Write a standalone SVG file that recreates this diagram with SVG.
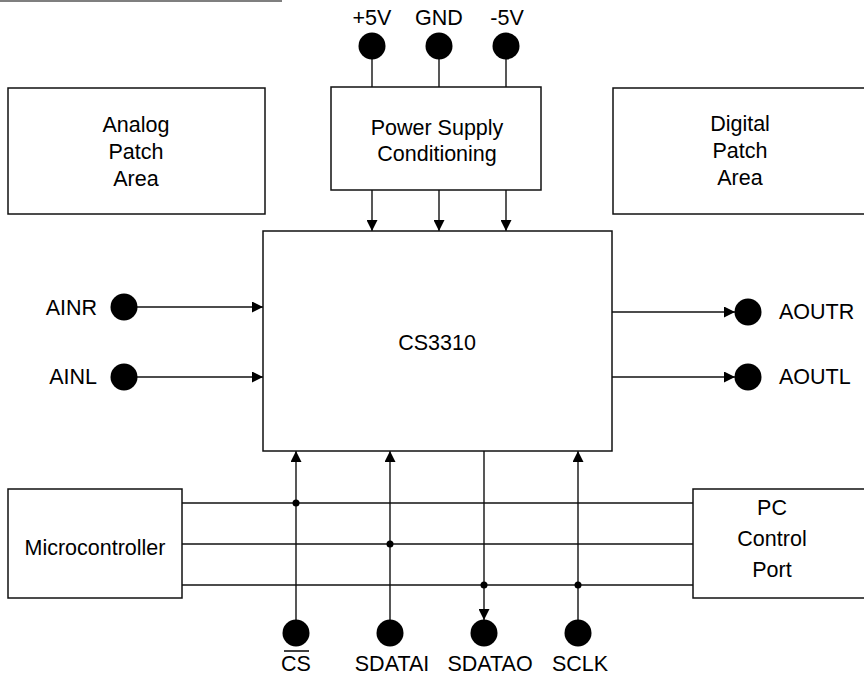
<svg xmlns="http://www.w3.org/2000/svg" width="864" height="678" viewBox="0 0 864 678">
<style>
.box{fill:#fff;stroke:#111;stroke-width:1.5}
.ln{stroke:#111;stroke-width:1.4;fill:none}
.pin{fill:#000}
.dot{fill:#000}
text{font-family:"Liberation Sans",Arial,sans-serif;font-size:21.5px;fill:#000}
.c{text-anchor:middle}
.e{text-anchor:end}
</style>
<defs>
<marker id="ah" viewBox="0 0 10 10" refX="10" refY="5" markerWidth="12" markerHeight="11" markerUnits="userSpaceOnUse" orient="auto">
<path d="M0,0 L10,5 L0,10 Z" fill="#000"/>
</marker>
</defs>
<rect width="864" height="678" fill="#fff"/>
<line x1="0" y1="1" x2="282" y2="1" stroke="#555" stroke-width="1.5"/>

<g id="connectors">
<line class="ln" x1="372" y1="45" x2="372" y2="87"/>
<line class="ln" x1="439" y1="45" x2="439" y2="87"/>
<line class="ln" x1="506" y1="45" x2="506" y2="87"/>
<line class="ln" x1="372" y1="190" x2="372" y2="231" marker-end="url(#ah)"/>
<line class="ln" x1="439" y1="190" x2="439" y2="231" marker-end="url(#ah)"/>
<line class="ln" x1="506" y1="190" x2="506" y2="231" marker-end="url(#ah)"/>
<line class="ln" x1="124" y1="307" x2="263" y2="307" marker-end="url(#ah)"/>
<line class="ln" x1="124" y1="377" x2="263" y2="377" marker-end="url(#ah)"/>
<line class="ln" x1="612" y1="312" x2="735" y2="312" marker-end="url(#ah)"/>
<line class="ln" x1="612" y1="377" x2="735" y2="377" marker-end="url(#ah)"/>
<line class="ln" x1="182" y1="503" x2="693" y2="503"/>
<line class="ln" x1="182" y1="544" x2="693" y2="544"/>
<line class="ln" x1="182" y1="585" x2="693" y2="585"/>
<line class="ln" x1="296" y1="633" x2="296" y2="451" marker-end="url(#ah)"/>
<line class="ln" x1="390" y1="633" x2="390" y2="451" marker-end="url(#ah)"/>
<line class="ln" x1="484" y1="451" x2="484" y2="620" marker-end="url(#ah)"/>
<line class="ln" x1="578" y1="633" x2="578" y2="451" marker-end="url(#ah)"/>
<circle class="dot" cx="296" cy="503" r="3.5"/>
<circle class="dot" cx="390" cy="544" r="3.5"/>
<circle class="dot" cx="484" cy="585" r="3.5"/>
<circle class="dot" cx="578" cy="585" r="3.5"/>
</g>

<g id="analog-patch">
<rect class="box" x="8" y="88" width="257" height="126"/>
<text class="c" x="136" y="132">Analog</text>
<text class="c" x="136" y="159">Patch</text>
<text class="c" x="136" y="186">Area</text>
</g>

<g id="power-supply">
<rect class="box" x="331" y="87" width="210" height="103"/>
<text class="c" x="437" y="135">Power Supply</text>
<text class="c" x="437" y="161">Conditioning</text>
</g>

<g id="digital-patch">
<rect class="box" x="613" y="88" width="260" height="126"/>
<text class="c" x="740" y="131">Digital</text>
<text class="c" x="740" y="158">Patch</text>
<text class="c" x="740" y="185">Area</text>
</g>

<g id="cs3310">
<rect class="box" x="263" y="231" width="349" height="220"/>
<text class="c" x="437" y="350">CS3310</text>
</g>

<g id="microcontroller">
<rect class="box" x="8" y="489" width="174" height="109"/>
<text class="c" x="95" y="555">Microcontroller</text>
</g>

<g id="pc-control-port">
<rect class="box" x="693" y="489" width="180" height="109"/>
<text class="c" x="772" y="515">PC</text>
<text class="c" x="772" y="546">Control</text>
<text class="c" x="772" y="577">Port</text>
</g>

<g id="pin-5v"><circle class="pin" cx="372" cy="46" r="13.5"/><text class="c" x="372" y="25">+5V</text></g>
<g id="pin-gnd"><circle class="pin" cx="439" cy="46" r="13.5"/><text class="c" x="439" y="25">GND</text></g>
<g id="pin-m5v"><circle class="pin" cx="506" cy="46" r="13.5"/><text class="c" x="507" y="25">-5V</text></g>

<g id="pin-ainr"><circle class="pin" cx="124" cy="307" r="13.5"/><text class="e" x="97" y="315">AINR</text></g>
<g id="pin-ainl"><circle class="pin" cx="124" cy="377" r="13.5"/><text class="e" x="97" y="384">AINL</text></g>
<g id="pin-aoutr"><circle class="pin" cx="748" cy="312" r="13.5"/><text x="779" y="319">AOUTR</text></g>
<g id="pin-aoutl"><circle class="pin" cx="748" cy="377" r="13.5"/><text x="779" y="384">AOUTL</text></g>

<g id="pin-cs"><circle class="pin" cx="296" cy="633" r="13.5"/><text class="c" x="296" y="671">CS</text><line x1="284" y1="651" x2="309" y2="651" stroke="#000" stroke-width="1.5"/></g>
<g id="pin-sdatai"><circle class="pin" cx="390" cy="633" r="13.5"/><text class="c" x="392" y="671">SDATAI</text></g>
<g id="pin-sdatao"><circle class="pin" cx="484" cy="633" r="13.5"/><text class="c" x="490" y="671">SDATAO</text></g>
<g id="pin-sclk"><circle class="pin" cx="578" cy="633" r="13.5"/><text class="c" x="580" y="671">SCLK</text></g>
</svg>
